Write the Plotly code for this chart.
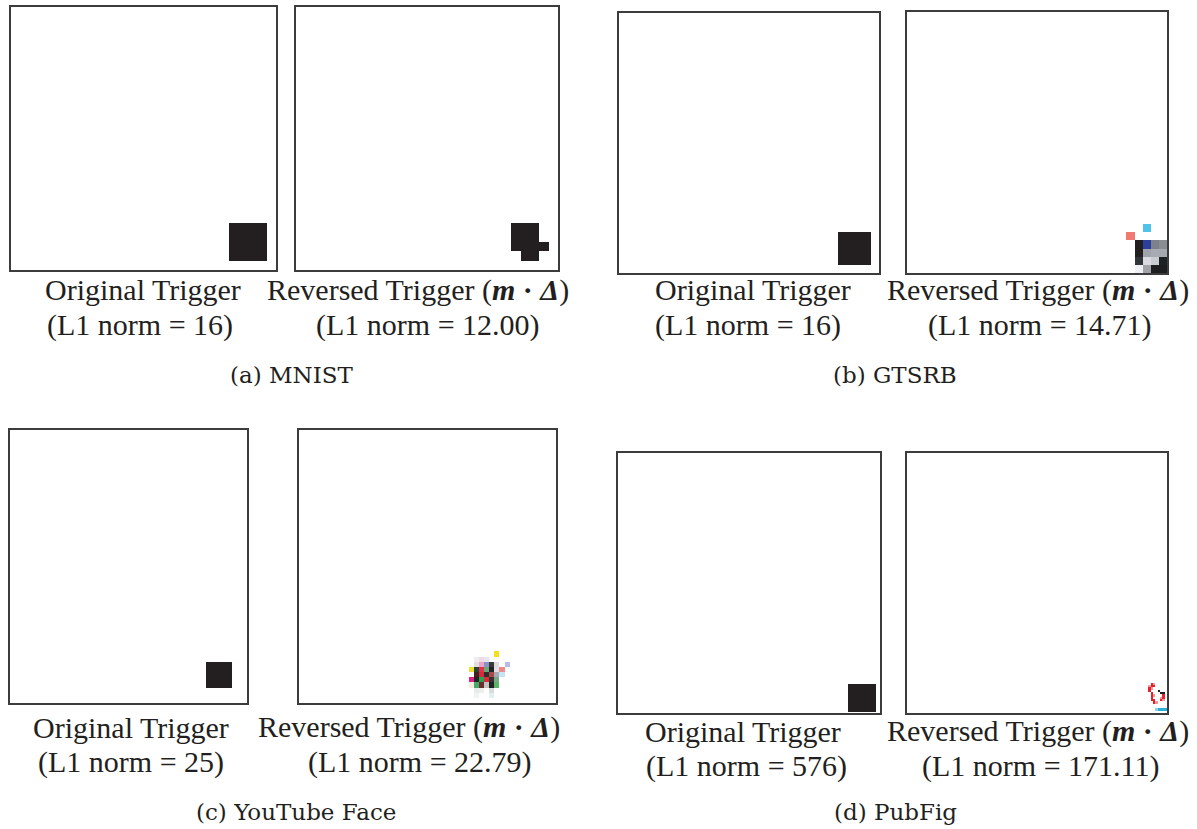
import plotly.graph_objects as go

FIG_W, FIG_H = 1197, 829

# ---------------- data ----------------
# panel boxes in page pixels: left, top, right, bottom
boxes = {
    "a1": (11, 7, 276, 270), "a2": (296, 7, 558, 270),
    "b1": (619, 13, 879, 273), "b2": (907, 12, 1167, 273),
    "c1": (10, 430, 247, 703), "c2": (299, 430, 556, 703),
    "d1": (618, 453, 880, 713), "d2": (907, 453, 1167, 713),
}
# image size (width, height) in image pixels, and trigger cell size
grids = {
    "a1": (28, 28, 1), "a2": (28, 28, 1),
    "b1": (32, 32, 1), "b2": (32, 32, 1),
    "c1": (46, 53, 1), "c2": (50, 53, 1),
    "d1": (224, 224, 1), "d2": (224, 224, 2),
}

DARK = "#231f20"

# trigger pixels: (row, col, colour) in cell units
mnist_orig = [(r, c, DARK) for r in (23, 24, 25, 26) for c in (23, 24, 25, 26)]
mnist_rev = [(r, c, DARK) for r in (23, 24, 25) for c in (23, 24, 25)] + \
            [(25, 26, DARK), (26, 24, DARK), (26, 25, DARK)]

gtsrb_orig = [(r, c, DARK) for r in (27, 28, 29, 30) for c in (27, 28, 29, 30)]
gtsrb_rev = [
    (26, 29, "#4fc3ea"), (27, 27, "#f07a72"),
    (28, 28, "#231f20"), (28, 29, "#2c3f9c"), (28, 30, "#7d8189"), (28, 31, "#8a8e93"),
    (29, 28, "#231f20"), (29, 29, "#9fa3aa"), (29, 30, "#a8acb2"), (29, 31, "#a6aab0"),
    (30, 28, "#2f3538"), (30, 29, "#d9dbe0"), (30, 30, "#c9ccd2"), (30, 31, "#1d2222"),
    (31, 28, "#eef0f4"), (31, 29, "#a0a4a8"), (31, 30, "#1e1e20"), (31, 31, "#1e1e20"),
]

yt_orig = [(r, c, DARK) for r in (45, 46, 47, 48, 49) for c in (38, 39, 40, 41, 42)]
yt_rev = [
    (43, 38, "#f2e21c"),
    (44, 34, "#eeeeee"), (44, 35, "#f0d8e4"), (44, 36, "#e6e6f0"),
    (45, 34, "#e0e0e0"), (45, 35, "#e9a6c8"), (45, 36, "#8a93c8"), (45, 37, "#3a3a3a"),
    (45, 38, "#dcdcdc"), (45, 40, "#b8bce6"),
    (46, 33, "#f0e030"), (46, 34, "#254535"), (46, 35, "#e0304a"), (46, 36, "#6aa878"),
    (46, 37, "#252525"), (46, 38, "#e0e0e8"), (46, 39, "#f08a8a"),
    (47, 34, "#3a2424"), (47, 35, "#d42a3a"), (47, 36, "#2e2e2e"), (47, 37, "#a84848"),
    (47, 38, "#a8a8b0"), (47, 39, "#c8e4f4"),
    (48, 33, "#e0208c"), (48, 34, "#222222"), (48, 35, "#2aa050"), (48, 36, "#e02838"),
    (48, 37, "#333333"), (48, 38, "#78a888"),
    (49, 33, "#f2f0dc"), (49, 34, "#48a868"), (49, 35, "#6a3030"), (49, 36, "#c4c4c4"),
    (49, 37, "#222222"), (49, 38, "#58b468"),
    (50, 34, "#e8ece8"), (50, 35, "#eef0ee"), (50, 37, "#d8dcdc"),
    (51, 34, "#eef4f2"), (51, 37, "#e0f0f0"),
]

pub_orig = [(r, c, DARK) for r in range(199, 223) for c in range(197, 221)]
RED = "#e8202a"
PINK = "#f29a9a"
CYAN = "#2ab0d8"
pub_rev = [
    (99, 105, RED), (99, 106, PINK),
    (100, 104, PINK), (100, 105, RED), (100, 106, RED),
    (101, 104, RED), (101, 105, PINK),
    (102, 104, RED), (102, 108, DARK),
    (103, 105, RED), (103, 109, DARK), (103, 110, DARK),
    (104, 105, RED), (104, 106, PINK), (104, 110, RED),
    (105, 105, RED), (105, 109, PINK), (105, 110, RED),
    (106, 105, RED), (106, 106, RED), (106, 109, RED), (106, 110, PINK),
    (107, 106, RED), (107, 107, PINK),
    (110, 107, "#8fd0e6"), (110, 108, CYAN), (110, 109, CYAN), (110, 110, CYAN), (110, 111, CYAN),
]

triggers = {
    "a1": mnist_orig, "a2": mnist_rev,
    "b1": gtsrb_orig, "b2": gtsrb_rev,
    "c1": yt_orig, "c2": yt_rev,
    "d1": pub_orig, "d2": pub_rev,
}

REV = "Reversed Trigger (<b><i>m</i> · <i>Δ</i></b>)"
captions = {
    "a1": ("Original Trigger", "(L1 norm = 16)"),
    "a2": (REV, "(L1 norm = 12.00)"),
    "b1": ("Original Trigger", "(L1 norm = 16)"),
    "b2": (REV, "(L1 norm = 14.71)"),
    "c1": ("Original Trigger", "(L1 norm = 25)"),
    "c2": (REV, "(L1 norm = 22.79)"),
    "d1": ("Original Trigger", "(L1 norm = 576)"),
    "d2": (REV, "(L1 norm = 171.11)"),
}
# caption line-1 centre x, line-2 centre x, line-1 y, line-2 y (page px)
caption_pos = {
    "a1": (143, 140, 290, 325), "a2": (418, 428, 290, 325),
    "b1": (753, 748, 290, 325), "b2": (1038, 1040, 290, 325),
    "c1": (131, 131, 727, 762), "c2": (409, 420, 727, 762),
    "d1": (743, 746, 731, 766), "d2": (1038, 1040, 731, 766),
}
subcaptions = [("(a) MNIST", 291, 375), ("(b) GTSRB", 895, 375),
               ("(c) YouTube Face", 296, 812), ("(d) PubFig", 895, 812)]

# ---------------- figure ----------------
fig = go.Figure()
layout = dict(width=FIG_W, height=FIG_H, margin=dict(l=0, r=0, t=0, b=0),
              paper_bgcolor="white", plot_bgcolor="white", showlegend=False)

for i, key in enumerate(boxes):
    n = i + 1
    xa = "xaxis" if n == 1 else f"xaxis{n}"
    ya = "yaxis" if n == 1 else f"yaxis{n}"
    xr = "x" if n == 1 else f"x{n}"
    yr = "y" if n == 1 else f"y{n}"
    L, T, R, B = boxes[key]
    W, H, cell = grids[key]
    ax_common = dict(showgrid=False, zeroline=False, showticklabels=False, ticks="",
                     showline=True, mirror=True, linecolor="#3c3c3c", linewidth=1.6,
                     fixedrange=True)
    layout[xa] = dict(domain=[L / FIG_W, R / FIG_W], range=[0, W], anchor=yr, **ax_common)
    layout[ya] = dict(domain=[1 - B / FIG_H, 1 - T / FIG_H], range=[H, 0], anchor=xr, **ax_common)

    pix = triggers[key]
    palette = []
    for _, _, col in pix:
        if col not in palette:
            palette.append(col)
    nc, nr = W // cell, H // cell
    z = [[None] * nc for _ in range(nr)]
    for r, c, col in pix:
        z[r][c] = palette.index(col)
    k = len(palette)
    cs = []
    for j, col in enumerate(palette):
        cs.append([j / k, col])
        cs.append([(j + 1) / k, col])
    fig.add_trace(go.Heatmap(z=z, x0=cell / 2, dx=cell, y0=cell / 2, dy=cell,
                             colorscale=cs, zmin=-0.5, zmax=k - 0.5, showscale=False,
                             hoverinfo="skip", xaxis=xr, yaxis=yr))

annotations = []
cap_font = dict(family="Liberation Serif", size=30, color="#231f20")
for key, (l1, l2) in captions.items():
    cx1, cx2, y1, y2 = caption_pos[key]
    for txt, cx, yy in ((l1, cx1, y1), (l2, cx2, y2)):
        annotations.append(dict(text=txt, x=cx / FIG_W, y=1 - yy / FIG_H, xref="paper", yref="paper",
                                xanchor="center", yanchor="middle", showarrow=False, font=cap_font))
for txt, cx, yy in subcaptions:
    annotations.append(dict(text=txt, x=cx / FIG_W, y=1 - yy / FIG_H, xref="paper", yref="paper",
                            xanchor="center", yanchor="middle", showarrow=False,
                            font=dict(family="DejaVu Serif", size=23, color="#231f20")))
layout["annotations"] = annotations
fig.update_layout(**layout)
fig.write_html("out.html", config={"displayModeBar": False},
               post_script="document.body.style.margin='0';document.body.style.overflow='hidden';")
